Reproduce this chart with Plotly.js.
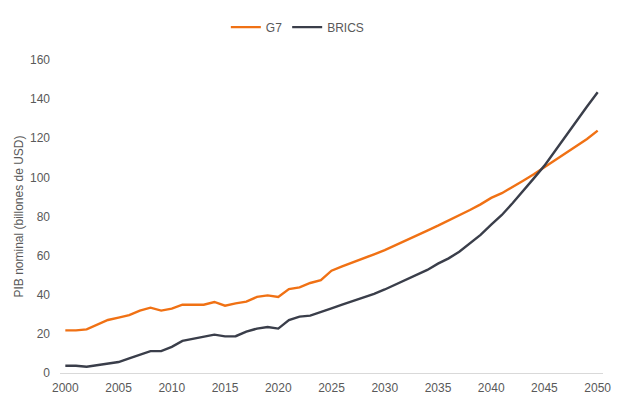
<!DOCTYPE html>
<html>
<head>
<meta charset="utf-8">
<script src="https://cdn.plot.ly/plotly-3.0.1.min.js"></script>
<style>html,body{margin:0;padding:0;background:#fff;}#chart{width:640px;height:419px;}</style>
</head>
<body>
<div id="chart"></div>
<script>
const years = [2000,2001,2002,2003,2004,2005,2006,2007,2008,2009,2010,2011,2012,2013,2014,2015,2016,2017,2018,2019,2020,2021,2022,2023,2024,2025,2026,2027,2028,2029,2030,2031,2032,2033,2034,2035,2036,2037,2038,2039,2040,2041,2042,2043,2044,2045,2046,2047,2048,2049,2050];
const g7 = [21.8,21.8,22.3,24.9,27.1,28.3,29.6,31.9,33.4,31.9,32.9,34.9,34.9,34.9,36.3,34.4,35.6,36.5,38.9,39.7,38.9,42.9,43.8,46.0,47.5,52.3,54.5,56.7,58.8,60.7,62.8,65.4,68.0,70.5,72.8,75.3,77.9,80.8,83.3,86.2,89.5,91.9,94.9,98.3,101.6,105.2,108.4,112.0,115.7,119.6,123.9];
const brics = [3.7,3.7,3.2,3.9,4.8,5.6,7.5,9.4,11.2,11.2,13.4,16.4,17.5,18.7,19.6,18.7,18.8,21.1,22.7,23.5,22.7,27.1,28.8,29.3,31.0,33.0,34.9,36.7,38.5,40.5,42.7,45.2,47.5,50.1,52.7,55.9,58.6,62.0,66.3,70.6,75.8,80.8,86.8,93.0,99.5,106.0,113.7,121.2,129.0,136.2,143.5];
const yTicks = [0,20,40,60,80,100,120,140,160];
const xTicks = [2000,2005,2010,2015,2020,2025,2030,2035,2040,2045,2050];

const traces = [
  {x: years, y: g7, name: 'G7', type: 'scatter', mode: 'lines', line: {color: '#F07114', width: 2.4}},
  {x: years, y: brics, name: 'BRICS', type: 'scatter', mode: 'lines', line: {color: '#3A3E4A', width: 2.4}}
];
const layout = {
  width: 640, height: 419,
  margin: {l: 60, r: 37, t: 60, b: 46},
  paper_bgcolor: '#fff', plot_bgcolor: '#fff',
  font: {family: 'Liberation Sans, Arial, sans-serif', size: 12, color: '#595959'},
  showlegend: true,
  legend: {orientation: 'h', x: 0.438, xanchor: 'center', y: 1.105, yanchor: 'middle', font: {size: 12, color: '#595959'}, itemwidth: 30, tracegroupgap: 0},
  xaxis: {range: [1999.5, 2050.5], tickvals: xTicks, ticktext: xTicks.map(String), showgrid: false, zeroline: false, showline: true, linecolor: '#d9d9d9', linewidth: 1, ticks: '', ticklabelstandoff: 4, tickfont: {size: 12, color: '#595959'}, fixedrange: true},
  yaxis: {range: [0, 160], tickvals: yTicks, ticktext: yTicks.map(String), showgrid: false, zeroline: false, showline: false, ticks: '', ticklabelstandoff: 9, tickfont: {size: 12, color: '#595959'},
    title: {text: 'PIB nominal (billones de USD)', font: {size: 12, color: '#595959'}, standoff: 3}, fixedrange: true}
};
Plotly.newPlot('chart', traces, layout, {displayModeBar: false, staticPlot: true});
</script>
</body>
</html>
